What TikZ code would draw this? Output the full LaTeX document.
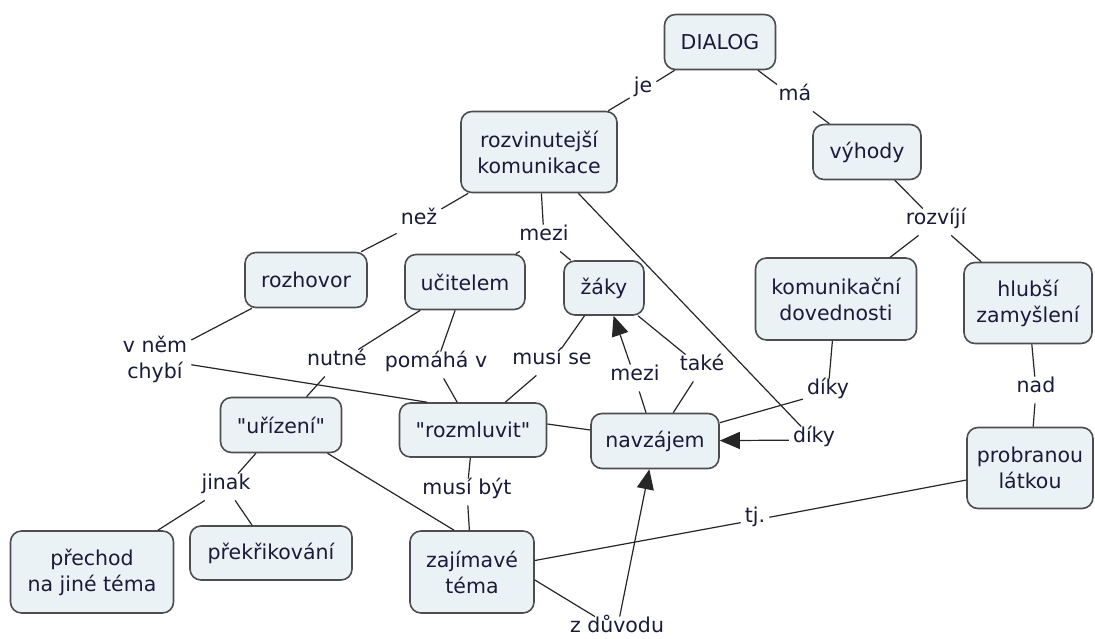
\documentclass[tikz,border=0pt]{standalone}
\usepackage{fontspec}
\setmainfont{DejaVu Sans}[Ligatures=TeXOff]
\usetikzlibrary{arrows.meta,calc}
\definecolor{boxfill}{HTML}{EBF2F5}
\definecolor{boxline}{HTML}{4D4D4D}
\definecolor{txt}{HTML}{1A1A3A}
\begin{document}
\begin{tikzpicture}[x=1pt,y=-1pt,
  concept/.style={draw=boxline, fill=boxfill, line width=1.6pt, rounded corners=11pt,
    align=center, inner sep=0pt, text=txt, font=\fontsize{20.5}{26}\selectfont},
  lab/.style={inner xsep=4pt, inner ysep=8pt, align=center, text=txt, font=\fontsize{20.5}{26}\selectfont,
    text height=0.8em, text depth=0.25em},
  link/.style={line width=1.2pt, draw=black!85},
  arr/.style={link, -{Triangle[length=20pt,width=17pt]}}]
\useasboundingbox (0,0) rectangle (1095,639);

% concepts
\node[concept, minimum width=111pt, minimum height=55pt] (dialog) at (720,42) {DIALOG};
\node[concept, minimum width=156pt, minimum height=81pt] (rozv) at (539,152) {rozvinutejší\\komunikace};
\node[concept, minimum width=108pt, minimum height=55pt] (vyh) at (867,152) {výhody};
\node[concept, minimum width=122pt, minimum height=55pt] (rozh) at (306,280) {rozhovor};
\node[concept, minimum width=120pt, minimum height=55pt] (ucit) at (465,282) {učitelem};
\node[concept, minimum width=80pt, minimum height=54pt] (zaky) at (604,288) {žáky};
\node[concept, minimum width=161pt, minimum height=82pt] (kom) at (836,299) {komunikační\\dovednosti};
\node[concept, minimum width=128pt, minimum height=81pt] (hlub) at (1028,303) {hlubší\\zamyšlení};
\node[concept, minimum width=121pt, minimum height=55pt] (uriz) at (281,425) {"uřízení"};
\node[concept, minimum width=147pt, minimum height=54pt] (rozm) at (473,430) {"rozmluvit"};
\node[concept, minimum width=128pt, minimum height=55pt] (navz) at (655,441) {navzájem};
\node[concept, minimum width=126pt, minimum height=81pt] (prob) at (1030,468) {probranou\\látkou};
\node[concept, minimum width=163pt, minimum height=82pt] (prech) at (92,572) {přechod\\na jiné téma};
\node[concept, minimum width=162pt, minimum height=54pt] (prek) at (271,553) {překřikování};
\node[concept, minimum width=124pt, minimum height=82pt] (zaj) at (472,572) {zajímavé\\téma};

% linking phrases
\node[lab] (je) at (643,90) {je};
\node[lab] (ma) at (795,98) {má};
\node[lab] (rozvi) at (936,222) {rozvíjí};
\node[lab] (nez) at (419,222) {než};
\node[lab] (mezi1) at (544,238) {mezi};
\node[lab, text height=, text depth=, inner ysep=4pt] (vnem) at (155,359) {v něm\\chybí};
\node[lab] (nutne) at (337,363) {nutné};
\node[lab] (pomaha) at (436,365) {pomáhá v};
\node[lab] (muse) at (552,362) {musí se};
\node[lab] (mezi2) at (635,378) {mezi};
\node[lab] (take) at (702,368) {také};
\node[lab] (diky1) at (828,392) {díky};
\node[lab] (diky2) at (814,440) {díky};
\node[lab] (nad) at (1036,390) {nad};
\node[lab] (jinak) at (226,487) {jinak};
\node[lab] (musib) at (467,492) {musí být};
\node[lab] (tj) at (755,520) {tj.};
\node[lab] (zd) at (617,630) {z důvodu};

% connectors
\draw[link] (dialog) -- (je);
\draw[link] (je) -- (rozv);
\draw[link] (dialog) -- (ma);
\draw[link] (ma) -- (vyh);
\draw[link] (vyh) -- (rozvi);
\draw[link] (rozvi) -- (kom);
\draw[link] (rozvi) -- (hlub);
\draw[link] (rozv) -- (nez);
\draw[link] (nez) -- (rozh);
\draw[link] (rozv) -- (mezi1);
\draw[link] (mezi1) -- (ucit);
\draw[link] (mezi1) -- (zaky);
\draw[link] (rozh) -- (vnem);
\draw[link] (vnem) -- ($(rozm.north)+(-46,0)$);
\draw[link] (ucit) -- (nutne);
\draw[link] (nutne) -- (uriz);
\draw[link] (ucit) -- (pomaha);
\draw[link] (pomaha) -- (rozm);
\draw[link] (zaky) -- (muse);
\draw[link] (muse) -- (rozm);
\draw[link] (navz) -- (mezi2);
\draw[arr] (mezi2) -- (zaky);
\draw[link] (zaky) -- (take);
\draw[link] (take) -- (navz);
\draw[link] (rozv) -- (diky2);
\draw[arr] (diky2) -- (navz);
\draw[link] (kom) -- (diky1);
\draw[link] (diky1) -- (navz);
\draw[link] (hlub) -- (nad);
\draw[link] (nad) -- (prob);
\draw[link] (uriz) -- (jinak);
\draw[link] (jinak) -- (prech);
\draw[link] (jinak) -- (prek);
\draw[link] (rozm) -- (musib);
\draw[link] (musib) -- (zaj);
\draw[link] (uriz) -- ($(zaj.north)+(-18,0)$);
\draw[link] (zaj) -- (tj);
\draw[link] (tj) -- (prob);
\draw[link] ($(zaj.east)+(0,8)$) -- (zd);
\draw[arr] (zd) -- (navz);
\draw[link] ($(rozm.east)+(0,-6)$) -- ($(navz.west)+(0,-11)$);
\end{tikzpicture}
\end{document}
